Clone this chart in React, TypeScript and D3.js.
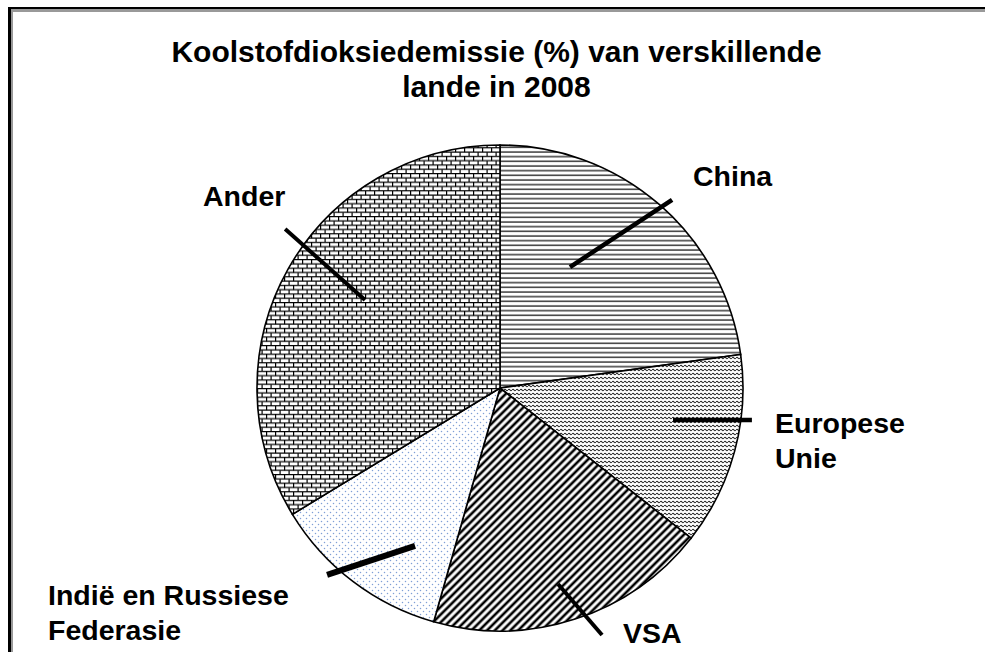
import React from "react";
import * as d3 from "d3";

// data
const countries = ["China", "Europese Unie", "VSA", "Indië en Russiese Federasie", "Ander"];
const emissions = [22.8, 12.8, 18.8, 11.9, 33.7];
const titleLines = ["Koolstofdioksiedemissie (%) van verskillende", "lande in 2008"];

// label layout (lines of text, text position, leader line in polar coords: [deg, r fraction])
const labelLines = [["China"], ["Europese", "Unie"], ["VSA"], ["Indië en Russiese", "Federasie"], ["Ander"]];
const labelPos = [[693, 186], [775, 433], [623, 643], [48, 605], [203, 206]];
const leaders = [
  [[30.05, 0.575], [42.46, 1.049], 4.5],
  [[100.48, 0.724], [97.24, 1.045], 4.5],
  [[163.52, 0.841], [157.56, 1.1], 4],
  [[208.28, 0.738], [222.77, 1.048], 6],
  [[303.1, 0.663], [306.5, 1.1], 4],
];
const fills = ["url(#pChina)", "url(#pEU)", "url(#pVSA)", "url(#pInd)", "url(#pAnder)"];

const W = 985;
const H = 652;
const cx = 500;
const cy = 388;
const R = 243;
const font = "'Liberation Sans', Arial, sans-serif";

const App = () => {
  const pie = d3.pie<number>().sort(null).value((d) => d);
  const arc = d3.arc<d3.PieArcDatum<number>>().innerRadius(0).outerRadius(R);
  const arcs = pie(emissions);
  const toRad = (deg: number) => (deg * Math.PI) / 180;

  return (
    <div style={{ position: "absolute", left: 0, top: 0 }}>
      <svg width={W} height={H} style={{ display: "block", background: "#fff" }}>
        <defs>
          <pattern id="pChina" width={8} height={14 / 3} patternUnits="userSpaceOnUse">
            <rect width={8} height={14 / 3} fill="#fff" />
            <line x1={0} x2={8} y1={2} y2={2} stroke="#1a1a1a" strokeWidth={1.3} />
          </pattern>
          <pattern id="pEU" width={4} height={4} patternUnits="userSpaceOnUse">
            <rect width={4} height={4} fill="#fff" />
            <path d="M0,2 Q1,0.5 2,2 T4,2" fill="none" stroke="#222" strokeWidth={1.1} />
          </pattern>
          <pattern id="pVSA" width={5.5} height={10} patternUnits="userSpaceOnUse" patternTransform="rotate(45)">
            <rect width={5.5} height={10} fill="#fff" />
            <line x1={2.75} x2={2.75} y1={0} y2={10} stroke="#000" strokeWidth={2.6} />
          </pattern>
          <pattern id="pInd" width={6} height={6} patternUnits="userSpaceOnUse">
            <rect width={6} height={6} fill="#fff" />
            <circle cx={1.5} cy={1.5} r={0.75} fill="#7f9fd6" />
            <circle cx={4.5} cy={4.5} r={0.75} fill="#7f9fd6" />
          </pattern>
          <pattern id="pAnder" width={9} height={8.6} patternUnits="userSpaceOnUse">
            <rect width={9} height={8.6} fill="#fff" />
            <line x1={0} x2={9} y1={0.6} y2={0.6} stroke="#000" strokeWidth={1.2} />
            <line x1={0} x2={9} y1={4.9} y2={4.9} stroke="#000" strokeWidth={1.2} />
            <line x1={0.6} x2={0.6} y1={0.6} y2={4.9} stroke="#000" strokeWidth={1.2} />
            <line x1={5.1} x2={5.1} y1={4.9} y2={8.6} stroke="#000" strokeWidth={1.2} />
          </pattern>
        </defs>

        {/* frame */}
        <line x1={8} x2={W} y1={10.5} y2={10.5} stroke="#999" strokeWidth={3} />
        <line x1={11.5} x2={11.5} y1={8} y2={H} stroke="#999" strokeWidth={3} />
        <line x1={8} x2={W} y1={8} y2={8} stroke="#000" strokeWidth={2} />
        <line x1={9.5} x2={9.5} y1={7} y2={H} stroke="#000" strokeWidth={3} />

        <text textAnchor="middle" fontFamily={font} fontWeight="bold" fontSize={30}>
          {titleLines.map((t, i) => (
            <tspan key={i} x={496.5} y={62 + i * 35}>
              {t}
            </tspan>
          ))}
        </text>

        <g transform={`translate(${cx},${cy})`}>
          {arcs.map((a, i) => (
            <path key={countries[i]} d={arc(a) || ""} fill={fills[i]} stroke="#000" strokeWidth={1.6} />
          ))}
          {leaders.map(([p0, p1, w], i) => {
            const [x1, y1] = d3.pointRadial(toRad((p0 as number[])[0]), (p0 as number[])[1] * R);
            const [x2, y2] = d3.pointRadial(toRad((p1 as number[])[0]), (p1 as number[])[1] * R);
            return <line key={i} x1={x1} y1={y1} x2={x2} y2={y2} stroke="#000" strokeWidth={w as number} />;
          })}
        </g>

        {labelLines.map((lines, i) => (
          <text key={countries[i]} fontFamily={font} fontWeight="bold" fontSize={28.5}>
            {lines.map((t, j) => (
              <tspan key={j} x={labelPos[i][0]} y={labelPos[i][1] + j * 35}>
                {t}
              </tspan>
            ))}
          </text>
        ))}
      </svg>
    </div>
  );
};

export default App;
